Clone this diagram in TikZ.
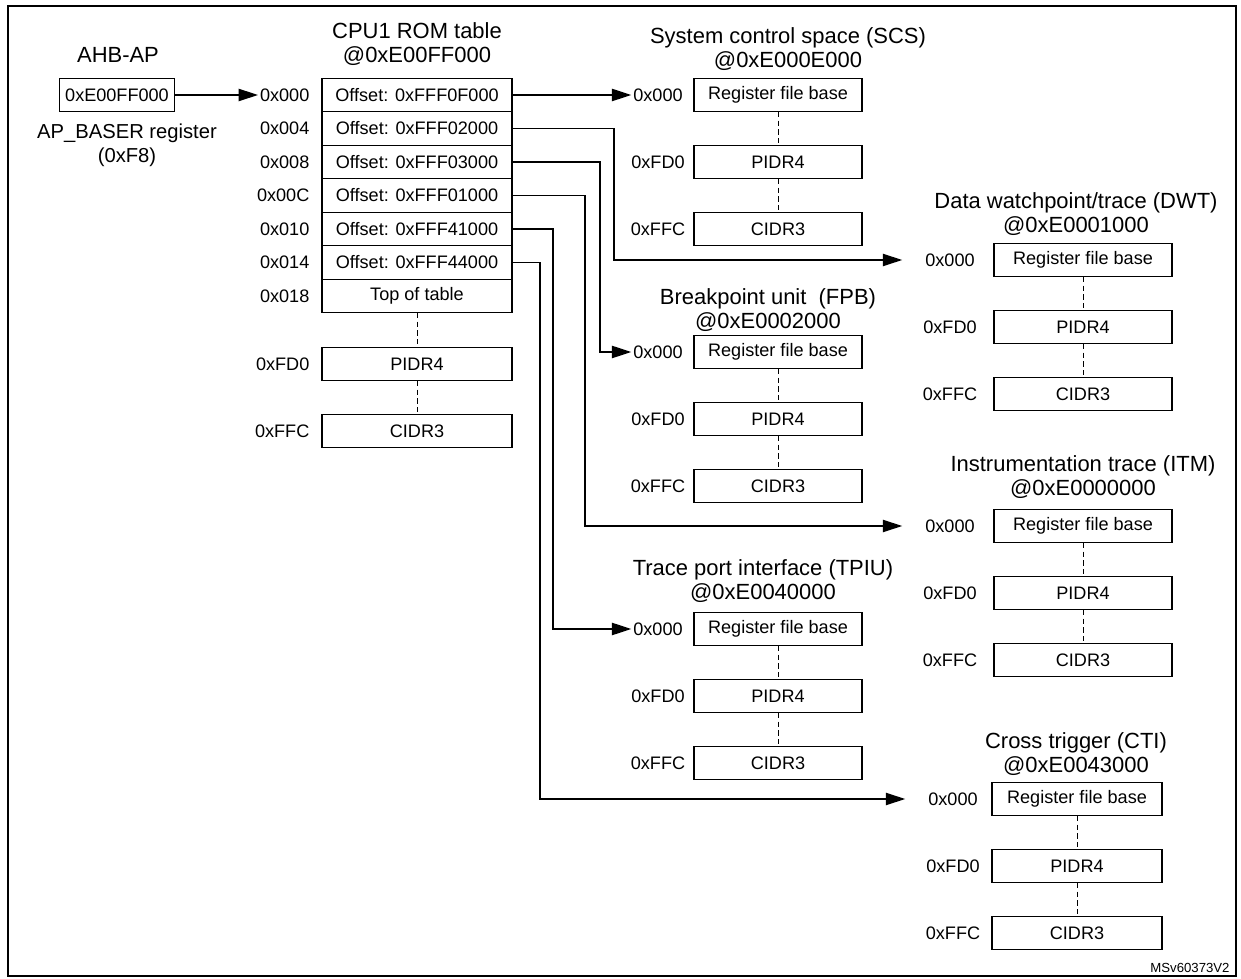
\documentclass[tikz,border=0pt]{standalone}
\usepackage{fontspec}
\setmainfont{Liberation Sans}
\usetikzlibrary{arrows.meta, positioning, calc}

% one register block: name, x centre, y of first row, width, label x
\newcommand{\regblock}[5]{%
  \node[reg, minimum width=#4] (#1a) at (#2,#3) {Register file base};
  \node[reg, minimum width=#4] (#1b) at (#2,#3+67) {PIDR4};
  \node[reg, minimum width=#4] (#1c) at (#2,#3+134) {CIDR3};
  \node[off] at (#5,#3) (#1la) {0x000};
  \node[off] at (#5,#3+67) {0xFD0};
  \node[off] at (#5,#3+134) {0xFFC};
  \draw[dashlink] (#1a) -- (#1b);
  \draw[dashlink] (#1b) -- (#1c);
}

\begin{document}
\begin{tikzpicture}[x=0.02cm, y=-0.02cm]
  \tikzstyle{reg} = [draw, thick, minimum height=33.5*0.02cm, inner sep=0pt, outer sep=0pt, font=\fontsize{10.3}{12}\selectfont]
  \tikzstyle{off} = [font=\fontsize{10.3}{12}\selectfont, inner sep=1pt]
  \tikzstyle{title} = [font=\fontsize{12.5}{14}\selectfont, align=center]
  \tikzstyle{dashlink} = [draw, densely dashed, thin]
  \tikzstyle{link} = [draw, thick, -{Triangle[length=11pt, width=7pt]}]
  \useasboundingbox (0,0) rectangle (1241,979);
  \draw[thick] (8,6) rectangle (1236,976);
  \node[font=\fontsize{7.5}{8}\selectfont] at (1190,968) {MSv60373V2};

  % AHB-AP
  \node[title] at (118,55) {AHB-AP};
  \node[reg, minimum width=115*0.02cm] (ahb) at (117,95) {0xE00FF000};
  \node[title, font=\fontsize{11.5}{13.5}\selectfont] at (127,145) {AP\_BASER register\\(0xF8)};

  % ROM table
  \node[title] at (417,44) {CPU1 ROM table\\@0xE00FF000};
  \node[reg, minimum width=190*0.02cm] (r0) at (417,95) {Offset: 0xFFF0F000};
  \node[reg, minimum width=190*0.02cm] (r1) at (417,128.5) {Offset: 0xFFF02000};
  \node[reg, minimum width=190*0.02cm] (r2) at (417,162) {Offset: 0xFFF03000};
  \node[reg, minimum width=190*0.02cm] (r3) at (417,195.5) {Offset: 0xFFF01000};
  \node[reg, minimum width=190*0.02cm] (r4) at (417,229) {Offset: 0xFFF41000};
  \node[reg, minimum width=190*0.02cm] (r5) at (417,262.5) {Offset: 0xFFF44000};
  \node[reg, minimum width=190*0.02cm] (r6) at (417,296) {Top of table};
  \node[reg, minimum width=190*0.02cm] (rp) at (417,364) {PIDR4};
  \node[reg, minimum width=190*0.02cm] (rc) at (417,431) {CIDR3};
  \draw[dashlink] (r6) -- (rp);
  \draw[dashlink] (rp) -- (rc);
  \node[off, left=6pt of r0] (l0) {0x000};
  \node[off, left=6pt of r1] {0x004};
  \node[off, left=6pt of r2] {0x008};
  \node[off, left=6pt of r3] {0x00C};
  \node[off, left=6pt of r4] {0x010};
  \node[off, left=6pt of r5] {0x014};
  \node[off, left=6pt of r6] {0x018};
  \node[off, left=6pt of rp] {0xFD0};
  \node[off, left=6pt of rc] {0xFFC};
  \draw[link] (ahb) -- (l0);

  % components
  \node[title] at (788,49) {System control space (SCS)\\@0xE000E000};
  \regblock{scs}{778}{95}{168*0.02cm}{658}
  \node[title] at (1076,214) {Data watchpoint/trace (DWT)\\@0xE0001000};
  \regblock{dwt}{1083}{260}{178*0.02cm}{950}
  \node[title] at (768,310) {Breakpoint unit\ \ (FPB)\\@0xE0002000};
  \regblock{fpb}{778}{352}{168*0.02cm}{658}
  \node[title] at (1083,477) {Instrumentation trace (ITM)\\@0xE0000000};
  \regblock{itm}{1083}{526}{178*0.02cm}{950}
  \node[title] at (763,581) {Trace port interface (TPIU)\\@0xE0040000};
  \regblock{tpiu}{778}{629}{168*0.02cm}{658}
  \node[title] at (1076,754) {Cross trigger (CTI)\\@0xE0043000};
  \regblock{cti}{1077}{799}{170*0.02cm}{953}

  \draw[link] (r0) -- (scsla);
  \draw[link, shorten >=12pt] (r1.east) -- ++(102,0) |- (dwtla);
  \draw[link] (r2.east) -- ++(88,0) |- (fpbla);
  \draw[link, shorten >=12pt] (r3.east) -- ++(73,0) |- (itmla);
  \draw[link] (r4.east) -- ++(41,0) |- (tpiula);
  \draw[link, shorten >=12pt] (r5.east) -- ++(28,0) |- (ctila);
\end{tikzpicture}
\end{document}
